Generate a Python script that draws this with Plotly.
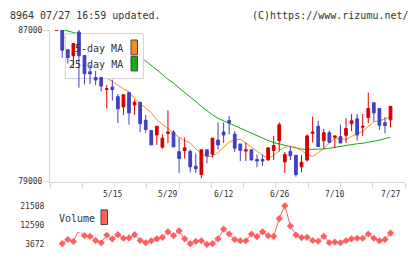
import numpy as np
import plotly.graph_objects as go

W, H = 420, 259

# ---------------- data ----------------
opens = [86990, 87000, 85965, 85640, 86898, 85660, 84800, 84500, 84500, 83860,
         83990, 83484, 82940, 83700, 83040, 83190, 82240, 81700, 81460, 80820,
         81547, 81615, 80580, 80630, 80595, 79815, 79373, 80680, 80442, 81190,
         81615, 82224, 81500, 80987, 80612, 80680, 80171, 80171, 80137, 80646,
         81157, 80035, 80595, 80392, 79780, 80137, 81547, 81920, 81157, 81580,
         81343, 81380, 81445, 82058, 82312, 81870, 82380, 83163, 82856, 82110,
         82261]
highs = [87000, 87000, 85965, 86287, 87000, 85660, 85165, 84845, 84500, 84100,
         84380, 83620, 83586, 83700, 83316, 83190, 82516, 81700, 81920, 81500,
         82770, 81716, 81327, 81327, 80697, 80477, 80680, 80680, 81293, 82122,
         82122, 82465, 81666, 80987, 81072, 80680, 80426, 80426, 80783, 81411,
         82122, 80562, 80868, 80392, 80392, 81500, 82430, 82210, 81787, 81700,
         81411, 82007, 82348, 82566, 82566, 82566, 83700, 83163, 82856, 82400,
         82975]
lows = [86980, 85540, 85230, 85064, 83958, 84130, 84150, 84080, 83755, 82860,
        83280, 82090, 82516, 82006, 82516, 81615, 81580, 80936, 80936, 80732,
        81038, 80834, 79458, 80222, 79493, 79458, 79170, 79968, 80273, 80700,
        81038, 81500, 80564, 80085, 80085, 80137, 79750, 79830, 80137, 80140,
        80595, 79459, 80137, 79255, 79493, 80050, 81070, 80850, 80732, 81038,
        80766, 81038, 81038, 81665, 81157, 81411, 82092, 82173, 81716, 81547,
        81870]
closes = [87000, 85940, 85540, 86287, 85640, 84692, 84690, 84365, 84045, 83900,
          83855, 82840, 83586, 82630, 83190, 82058, 81750, 80936, 81920, 81293,
          81615, 80834, 80222, 80783, 79780, 79678, 80680, 80360, 81293, 80936,
          81460, 82092, 80767, 80646, 80680, 80137, 80085, 80085, 80783, 80902,
          82007, 80426, 80360, 79373, 80019, 81411, 81615, 80850, 81580, 81072,
          81411, 81038, 81800, 82210, 81460, 81920, 82856, 82630, 81970, 81955,
          82975]
ma5 = [None, 86690, 86440, 86240, 86080, 85620, 85370, 85110, 84710, 84450,
       84300, 84100, 83890, 83740, 83380, 83130, 82870, 82640, 82260, 82030,
       81780, 81550, 81340, 81170, 81040, 80730, 80480, 80330, 80330, 80530,
       80830, 81090, 81190, 81240, 81040, 80830, 80630, 80380, 80220, 80380,
       80630, 80810, 80860, 80810, 80630, 80450, 80330, 80530, 80730, 81040,
       81290, 81270, 81220, 81390, 81500, 81650, 81900, 82160, 82210, 82310,
       82410]
ma25 = [None, 87030, 86970, 86870, 86800, 86690, 86590, 86490, 86390, 86290,
        86180, 86060, 85930, 85800, 85680, 85570, 85370, 85140, 84890, 84660,
        84400, 84200, 83940, 83710, 83480, 83230, 82970, 82720, 82520, 82340,
        82210, 82080, 81930, 81800, 81670, 81550, 81390, 81270, 81170, 81060,
        80990, 80910, 80830, 80760, 80710, 80700, 80700, 80700, 80720, 80760,
        80810, 80890, 80940, 80970, 81000, 81020, 81070, 81140, 81190, 81270,
        81340]
volume = [3990, 5900, 5010, 10360, 7690, 7370, 5460, 4430, 8000, 6210,
          8130, 6480, 6660, 8130, 5460, 4430, 5320, 6210, 6930, 9470,
          7690, 9920, 6210, 3990, 5010, 5320, 3672, 3990, 6210, 10670,
          8440, 5900, 5320, 5320, 8440, 7240, 9470, 7690, 7370, 15580,
          21508, 12140, 8000, 6790, 6930, 5460, 5140, 7370, 4430, 4700,
          4430, 5320, 6210, 6480, 6480, 8440, 6480, 5320, 5900, 8890]
date_labels = ["5/15", "5/29", "6/12", "6/26", "7/10", "7/27"]
date_label_day = [10, 20, 30, 40, 50, 60]
price_ticks = [79000, 87000]
vol_ticks = [3672, 12590, 21508]

days = list(range(len(opens)))
vol_days = days[1:]

# ---------------- geometry helpers ----------------
X_MIN, X_MAX = -1.2, 62.6
PX_L, PX_R = 50, 405
PY_T, PY_B = 27, 184
VY_T, VY_B = 209, 249
P_MIN, P_MAX = price_ticks[0], price_ticks[1]


def fx(px):
    return px / W


def fy(py):
    return 1 - py / H


def ix(px):
    return X_MIN + (px - PX_L) / (PX_R - PX_L) * (X_MAX - X_MIN)


def pv(py):
    return P_MAX - (py - PY_T) / (PY_B - PY_T) * (P_MAX - P_MIN)


FONT = "DejaVu Sans Mono"
AX = "#d6d6d6"
TXT = "#333333"
RED = "#d40000"
BLUE = "#4040c0"
ORANGE = "#f0901e"
GREEN = "#14a814"
VOLC = "#ff5e5e"

fig = go.Figure()

# MA lines (base subplot)
fig.add_trace(go.Scatter(x=days, y=ma25, mode="lines", line=dict(color=GREEN, width=1),
                         xaxis="x", yaxis="y", hoverinfo="skip"))
fig.add_trace(go.Scatter(x=days, y=ma5, mode="lines", line=dict(color=ORANGE, width=1),
                         xaxis="x", yaxis="y", hoverinfo="skip"))
# legend box (covers MA lines, below candles)
bx0, bx1, by0, by1 = ix(65.3), ix(143.3), pv(30.7), pv(77.3)
fig.add_trace(go.Scatter(x=[bx0, bx1, bx1, bx0, bx0], y=[by0, by0, by1, by1, by0],
                         mode="lines", fill="toself", fillcolor="white",
                         line=dict(color="#d0d0d0", width=1),
                         xaxis="x", yaxis="y", hoverinfo="skip"))

# candles on overlay axis (drawn above)
fig.add_trace(go.Candlestick(
    x=days, open=opens, high=highs, low=lows, close=closes,
    increasing=dict(line=dict(color=RED, width=1), fillcolor=RED),
    decreasing=dict(line=dict(color=BLUE, width=1), fillcolor=BLUE),
    whiskerwidth=0, xaxis="x", yaxis="y2", hoverinfo="skip"))

# volume
fig.add_trace(go.Scatter(x=vol_days, y=volume, mode="lines+markers",
                         line=dict(color=VOLC, width=1),
                         marker=dict(symbol="diamond", size=5.5, color=VOLC),
                         cliponaxis=False, xaxis="x3", yaxis="y3", hoverinfo="skip"))

grid_ticks = list(np.linspace(X_MIN, X_MAX, 12))

fig.update_layout(
    width=W, height=H, autosize=False,
    margin=dict(l=0, r=0, t=0, b=0),
    paper_bgcolor="white", plot_bgcolor="white",
    showlegend=False, boxgap=0.3,
    xaxis=dict(domain=[fx(PX_L), fx(PX_R)], range=[X_MIN, X_MAX], anchor="y",
               showline=True, linecolor=AX, linewidth=1,
               ticks="outside", ticklen=5, tickcolor=AX, tickwidth=1,
               tickvals=grid_ticks, showticklabels=False,
               showgrid=False, zeroline=False, rangeslider=dict(visible=False)),
    yaxis=dict(domain=[fy(PY_B), fy(PY_T)], range=[P_MIN, P_MAX], anchor="x",
               showline=True, linecolor=AX, linewidth=1,
               ticks="outside", ticklen=5, tickcolor=AX,
               tickvals=price_ticks, ticktext=[str(v) for v in price_ticks],
               tickfont=dict(family=FONT, size=8, color=TXT),
               showgrid=False, zeroline=False),
    yaxis2=dict(overlaying="y", range=[P_MIN, P_MAX], anchor="x", visible=False,
                showgrid=False, zeroline=False),
    xaxis3=dict(domain=[fx(PX_L), fx(PX_R)], range=[X_MIN, X_MAX], anchor="y3",
                visible=False, showgrid=False, zeroline=False),
    yaxis3=dict(domain=[fy(VY_B), fy(VY_T)], range=[vol_ticks[0], vol_ticks[-1]],
                anchor="x3", showline=False, showgrid=False, zeroline=False,
                ticks="outside", ticklen=3, tickcolor="rgba(0,0,0,0)",
                tickvals=vol_ticks, ticktext=[str(v) for v in vol_ticks],
                tickfont=dict(family=FONT, size=8, color=TXT)),
)

ann = []
ann.append(dict(text="8964 07/27 16:59 updated.", x=fx(8), y=fy(12), xref="paper", yref="paper",
                xanchor="left", yanchor="middle", showarrow=False,
                font=dict(family=FONT, size=10, color=TXT)))
ann.append(dict(text="(C)https://www.rizumu.net/", x=fx(411), y=fy(12), xref="paper", yref="paper",
                xanchor="right", yanchor="middle", showarrow=False,
                font=dict(family=FONT, size=10, color=TXT)))
ann.append(dict(text="5-day MA", x=fx(125), y=fy(46), xref="paper", yref="paper",
                xanchor="right", yanchor="middle", showarrow=False,
                font=dict(family=FONT, size=10, color=TXT)))
ann.append(dict(text="25-day MA", x=fx(125), y=fy(63), xref="paper", yref="paper",
                xanchor="right", yanchor="middle", showarrow=False,
                font=dict(family=FONT, size=10, color=TXT)))
ann.append(dict(text="Volume", x=fx(57), y=fy(222), xref="paper", yref="paper",
                xanchor="left", yanchor="middle", showarrow=False,
                font=dict(family=FONT, size=10, color=TXT)))
for d, lab in zip(date_label_day, date_labels):
    ann.append(dict(text=lab, x=d, y=fy(197), xref="x", yref="paper",
                    xanchor="center", yanchor="middle", showarrow=False,
                    font=dict(family=FONT, size=8, color=TXT)))

shapes = [
    dict(type="rect", xref="paper", yref="paper", x0=fx(131), x1=fx(137.5),
         y0=fy(52.7), y1=fy(37.3), fillcolor="#f39020", line=dict(color="#444444", width=1), layer="above"),
    dict(type="rect", xref="paper", yref="paper", x0=fx(131), x1=fx(137.5),
         y0=fy(69.3), y1=fy(54.3), fillcolor="#12b012", line=dict(color="#444444", width=1), layer="above"),
    dict(type="rect", xref="paper", yref="paper", x0=fx(55), x1=fx(110),
         y0=fy(236.5), y1=fy(206), fillcolor="white", line=dict(width=0), layer="above"),
    dict(type="rect", xref="paper", yref="paper", x0=fx(101), x1=fx(107.5),
         y0=fy(228.5), y1=fy(213.3), fillcolor="#ff6060", line=dict(color="#444444", width=1), layer="above"),
]
fig.update_layout(annotations=ann, shapes=shapes)

fig.write_html("out.html")
